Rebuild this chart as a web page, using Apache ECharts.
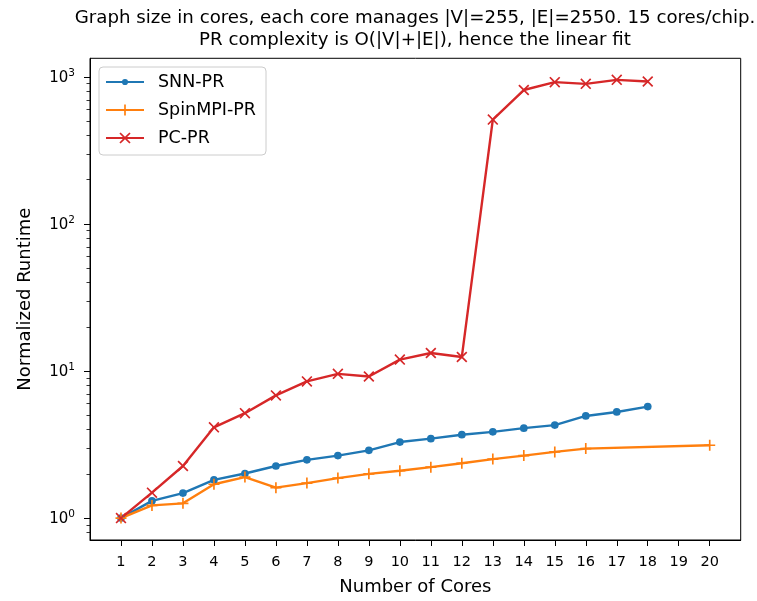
<!DOCTYPE html>
<html><head><meta charset="utf-8">
<script src="https://cdn.jsdelivr.net/npm/echarts@6/dist/echarts.min.js"></script>
<style>html,body{margin:0;padding:0;background:#fff}#c{width:757px;height:601px}</style>
</head><body><div id="c"></div>
<script>
// ---- data ----
const coresSNN = [1,2,3,4,5,6,7,8,9,10,11,12,13,14,15,16,17,18];
const snnPR = [1.0,1.31,1.48,1.82,2.01,2.26,2.49,2.66,2.89,3.29,3.47,3.69,3.86,4.09,4.29,4.95,5.27,5.73];
const coresSpin = [1,2,3,4,5,6,7,8,9,10,11,12,13,14,15,16,20];
const spinMPIPR = [1.0,1.22,1.26,1.70,1.90,1.61,1.73,1.87,2.00,2.10,2.22,2.36,2.52,2.66,2.82,2.97,3.13];
const coresPC = [1,2,3,4,5,6,7,8,9,10,11,12,13,14,15,16,17,18];
const pcPR = [1.0,1.49,2.26,4.14,5.17,6.83,8.5,9.57,9.18,11.96,13.27,12.47,513,815,922,898,956,931];
const seriesNames = ['SNN-PR','SpinMPI-PR','PC-PR'];
const xTicks = [1,2,3,4,5,6,7,8,9,10,11,12,13,14,15,16,17,18,19,20];
const yMajorTicks = [1,10,100,1000];
const yMinorTicks = [0.8,0.9,2,3,4,5,6,7,8,9,20,30,40,50,60,70,80,90,200,300,400,500,600,700,800,900];
const titleText = 'Graph size in cores, each core manages |V|=255, |E|=2550. 15 cores/chip.\nPR complexity is O(|V|+|E|), hence the linear fit';
const xName = 'Number of Cores';
const yName = 'Normalized Runtime';

const pair = (xs, ys) => xs.map((x, i) => [x, ys[i]]);
const FONT = 'DejaVu Sans';
const plusPath = 'path://M5.1,0H6.9V5.1H12V6.9H6.9V12H5.1V6.9H0V5.1H5.1Z';
const xPath = 'path://M0,1.3L1.3,0L6,4.7L10.7,0L12,1.3L7.3,6L12,10.7L10.7,12L6,7.3L1.3,12L0,10.7L4.7,6Z';
// small dot inside a larger (invisible) box so legend dot stays small
const dotPath = 'path://M0,0L0,0M20,20L20,20M15.5,10A5.5,5.5,0,1,1,4.5,10A5.5,5.5,0,1,1,15.5,10Z';
const yMin = Math.pow(10, -0.149), yMax = Math.pow(10, 3.127);

const chart = echarts.init(document.getElementById('c'), null, {renderer: 'canvas'});
chart.setOption({
  animation: false,
  backgroundColor: '#fff',
  title: {
    text: titleText, left: 415, top: 7, textAlign: 'center', padding: 0,
    textStyle: {fontFamily: FONT, fontSize: 18.2, fontWeight: 'normal', color: '#000', lineHeight: 22.5}
  },
  legend: {
    orient: 'vertical', left: 99, top: 67, padding: [6, 10, 8, 6],
    itemWidth: 38, itemHeight: 14, itemGap: 10,
    borderColor: '#cccccc', borderWidth: 1, borderRadius: 4, backgroundColor: 'rgba(255,255,255,0.8)',
    textStyle: {fontFamily: FONT, fontSize: 17.5, color: '#000', padding: [0, 0, 0, 9], lineHeight: 18},
    data: seriesNames
  },
  grid: {left: 90, right: 16.3, top: 58.3, bottom: 58.3, show: true, borderColor: '#000', borderWidth: 1, containLabel: false},
  xAxis: {
    type: 'value', min: 0, max: 21,
    name: xName, nameLocation: 'middle', nameGap: 38,
    nameTextStyle: {fontFamily: FONT, fontSize: 18, color: '#000'},
    axisLine: {show: true, lineStyle: {color: '#000', width: 1}},
    axisTick: {show: true, length: 6, lineStyle: {color: '#000', width: 1}, customValues: xTicks},
    axisLabel: {fontFamily: FONT, fontSize: 14.5, color: '#000', margin: 14.5, customValues: xTicks},
    splitLine: {show: false}
  },
  yAxis: [{
    type: 'log', min: yMin, max: yMax, logBase: 10,
    name: yName, nameLocation: 'middle', nameGap: 56,
    nameTextStyle: {fontFamily: FONT, fontSize: 18, color: '#000'},
    axisLine: {show: true, lineStyle: {color: '#000', width: 1}},
    axisTick: {show: true, length: 6, lineStyle: {color: '#000', width: 1}, customValues: yMajorTicks},
    axisLabel: {
      customValues: yMajorTicks, margin: 15,
      formatter: v => '{b|10}{s|' + Math.round(Math.log10(v)) + '}',
      rich: {
        b: {fontFamily: FONT, fontSize: 15, color: '#000', lineHeight: 18, verticalAlign: 'bottom'},
        s: {fontFamily: FONT, fontSize: 10.5, color: '#000', lineHeight: 12, verticalAlign: 'top'}
      }
    },
    splitLine: {show: false}
  }, {
    type: 'log', min: yMin, max: yMax, logBase: 10, position: 'left',
    axisLine: {show: false},
    axisTick: {show: true, length: 3.5, lineStyle: {color: '#000', width: 0.8}, customValues: yMinorTicks},
    axisLabel: {show: false},
    splitLine: {show: false}
  }],
  series: [{
    name: seriesNames[0], type: 'line', data: pair(coresSNN, snnPR),
    symbol: dotPath, symbolSize: 14,
    lineStyle: {color: '#1f77b4', width: 2.4}, itemStyle: {color: '#1f77b4', borderWidth: 0}
  }, {
    name: seriesNames[1], type: 'line', data: pair(coresSpin, spinMPIPR),
    symbol: plusPath, symbolSize: 11,
    lineStyle: {color: '#ff7f0e', width: 2.4}, itemStyle: {color: '#ff7f0e', borderWidth: 0}
  }, {
    name: seriesNames[2], type: 'line', data: pair(coresPC, pcPR),
    symbol: xPath, symbolSize: 11,
    lineStyle: {color: '#d62728', width: 2.4}, itemStyle: {color: '#d62728', borderWidth: 0}
  }]
});
</script></body></html>
